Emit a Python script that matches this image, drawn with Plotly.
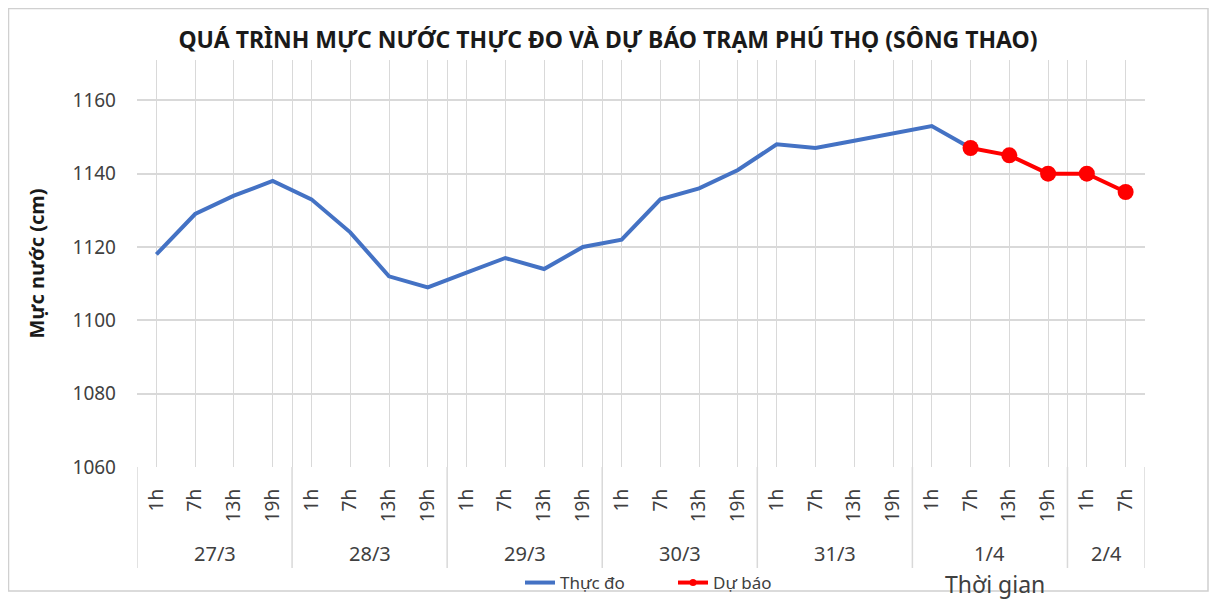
import plotly.graph_objects as go

dates = ["27/3", "28/3", "29/3", "30/3", "31/3", "1/4", "2/4"]
hours_per_day = [4, 4, 4, 4, 4, 4, 2]
hour_names = ["1h", "7h", "13h", "19h"]
hours = []
for n in hours_per_day:
    hours += hour_names[:n]

observed = [1118, 1129, 1134, 1138, 1133, 1124, 1112, 1109, 1113, 1117, 1114, 1120,
            1122, 1133, 1136, 1141, 1148, 1147, 1149, 1151, 1153, 1147]
forecast = [1147, 1145, 1140, 1140, 1135]

x_all = list(range(len(hours)))
x_obs = x_all[:len(observed)]
x_fc = x_all[len(observed) - 1:]

grid = "#D9D9D9"
font_name = "Noto Sans"
# the page body adds 8px, so the figure is drawn 8px smaller and shifted
OFF = 8
W, H = 1217 - OFF, 600 - OFF
L, R, T, B = 137 - OFF, 1217 - 1145, 60 - OFF, 600 - 467
plot_w = W - L - R
plot_h = H - T - B


def px(xp):
    return (xp - OFF - L) / plot_w


def py(yp):
    return (H - B - (yp - OFF)) / plot_h


fig = go.Figure()
fig.add_trace(go.Scatter(x=x_obs, y=observed, mode="lines", name="Thực đo",
                         line=dict(color="#4472C4", width=4)))
fig.add_trace(go.Scatter(x=x_fc, y=forecast, mode="lines+markers", name="Dự báo",
                         line=dict(color="#FF0000", width=4),
                         marker=dict(color="#FF0000", size=16), showlegend=False))
# legend entry with a small marker, like the original
fig.add_trace(go.Scatter(x=[None], y=[None], mode="lines+markers", name="Dự báo",
                         line=dict(color="#FF0000", width=4),
                         marker=dict(color="#FF0000", size=7)))

# date group labels and separators
start = 0
bounds = [-0.5]
for d, n in zip(dates, hours_per_day):
    mid = start + (n - 1) / 2
    fig.add_annotation(x=mid, y=py(553), xref="x", yref="paper", text=d, showarrow=False,
                       xanchor="center", yanchor="middle", font=dict(size=20, color="#404040"))
    start += n
    bounds.append(start - 0.5)
for b in bounds:
    fig.add_shape(type="line", xref="x", yref="paper", x0=b, x1=b, y0=0,
                  y1=py(568), line=dict(color=grid, width=1.5))

fig.add_annotation(x=px(995), y=py(584), xref="paper", yref="paper", text="Thời gian",
                   showarrow=False, xanchor="center", yanchor="middle",
                   font=dict(size=23, color="#404040"))

# outer chart border
fig.add_shape(type="rect", xref="paper", yref="paper",
              x0=px(OFF + 0.5), x1=px(1208), y0=py(591), y1=py(OFF + 0.5),
              line=dict(color="#D0D0D0", width=1.5))

fig.update_layout(
    width=W, height=H,
    margin=dict(l=L, r=R, t=T, b=B, autoexpand=False),
    paper_bgcolor="white", plot_bgcolor="white",
    font=dict(family=font_name, color="#262626"),
    title=dict(text="<b>QUÁ TRÌNH MỰC NƯỚC THỰC ĐO VÀ DỰ BÁO TRẠM PHÚ THỌ (SÔNG THAO)</b>",
               x=(608 - OFF) / W, xanchor="center", y=1 - (40 - OFF) / H, yanchor="middle",
               font=dict(size=23, color="#1a1a1a")),
    showlegend=True,
    legend=dict(orientation="h", x=px(520), xanchor="left",
                y=py(583), yanchor="middle", entrywidth=108, entrywidthmode="pixels",
                font=dict(size=17, color="#404040"), bgcolor="rgba(0,0,0,0)"),
    xaxis=dict(range=[-0.5, len(hours) - 0.5], tickmode="array", tickvals=x_all,
               ticktext=hours, tickangle=-90, ticks="", showgrid=True, gridcolor=grid,
               gridwidth=1, zeroline=False, showline=False, automargin=False,
               ticklabelstandoff=17, tickfont=dict(size=19, color="#404040"),
               minor=dict(tickmode="array", tickvals=bounds, showgrid=True,
                          gridcolor=grid, gridwidth=1)),
    yaxis=dict(range=[1060, 1171], tick0=1060, dtick=20, showgrid=True, gridcolor=grid,
               gridwidth=1.5, zeroline=False, showline=False, ticks="", automargin=False,
               ticklabelstandoff=20, tickfont=dict(size=19, color="#404040"),
               title=dict(text="<b>Mực nước (cm)</b>", font=dict(size=20, color="#1a1a1a"),
                          standoff=22)),
)

fig.write_html("out.html")
